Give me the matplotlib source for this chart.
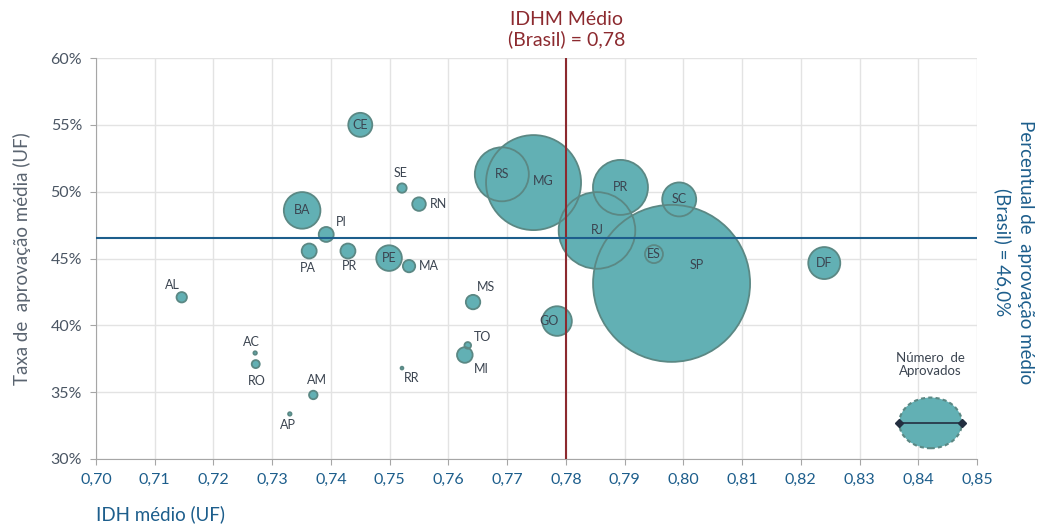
import numpy as np
import matplotlib
matplotlib.use("Agg")
import matplotlib.pyplot as plt
from matplotlib.patches import Ellipse

plt.rcParams['font.family'] = ['Lato', 'DejaVu Sans']

# data
ufs = ['CE', 'SE', 'RN', 'BA', 'PI', 'PA', 'PR', 'PE', 'MA', 'AL', 'MS', 'TO', 'MI',
       'AC', 'RO', 'AM', 'AP', 'RR', 'GO', 'RS', 'MG', 'PR', 'SC', 'RJ', 'ES', 'SP', 'DF']
idh = [0.7450, 0.7521, 0.7550, 0.7351, 0.7392, 0.7363, 0.7429, 0.7499, 0.7533, 0.7146,
       0.7642, 0.7633, 0.7628, 0.7271, 0.7272, 0.7370, 0.7330, 0.7521, 0.7785, 0.7691,
       0.7745, 0.7893, 0.7993, 0.7853, 0.7950, 0.7980, 0.8240]
taxa = [55.0, 50.27, 49.07, 48.6, 46.8, 45.56, 45.56, 45.03, 44.43, 42.1,
        41.74, 38.5, 37.78, 37.93, 37.1, 34.79, 33.37, 36.8, 40.32, 51.3,
        50.68, 50.32, 49.42, 47.1, 45.33, 43.14, 44.66]
aprovados = [1440, 220, 460, 3350, 560, 560, 560, 1640, 380, 270,
             520, 110, 610, 30, 160, 180, 30, 20, 2190, 7290,
             22560, 7560, 2890, 14670, 810, 61620, 2560]

idh_brasil = 0.78
taxa_brasil = 46.5

x_ticks = np.arange(0.70, 0.851, 0.01)
y_ticks = np.arange(30, 61, 5)

# label offsets in points (missing = centred inside the bubble)
offsets = {
    1: (-1, 11), 2: (8, 0, 'left'), 4: (11, 9), 5: (-1, -12), 6: (1, -11),
    8: (7, 0, 'left'), 9: (-7, 9), 10: (9, 11), 11: (11, 6), 12: (12, -10),
    13: (-3, 8), 14: (1, -12), 15: (3, 11), 16: (-1, -8), 17: (7, -7),
    18: (-6, 0), 20: (7, 1), 25: (18, 13),
}

fill = '#62b0b4'
edge = '#5b8884'
blue = '#1d5e8c'
red = '#8c2a2f'
grey_txt = '#4a5563'

fig = plt.figure(figsize=(10.41, 5.26), dpi=100)
ax = fig.add_axes([0.0922, 0.1274, 0.8463, 0.7623])

r_px = np.sqrt(np.array(aprovados) / 10.0)
sizes = (2 * r_px * 0.72) ** 2
# fills first, then all outlines on top so overlapping edges stay visible
ax.scatter(idh, taxa, s=sizes, c=fill, edgecolors='none', zorder=3)
ax.scatter(idh, taxa, s=sizes, facecolors='none', edgecolors=edge, linewidths=1.3, zorder=3.5)

for i, (lab, x, y) in enumerate(zip(ufs, idh, taxa)):
    off = offsets.get(i, (0, 0))
    ha = off[2] if len(off) > 2 else 'center'
    ax.annotate(lab, (x, y), xytext=(off[0], off[1]), textcoords='offset points',
                ha=ha, va='center', fontsize=9, color='#3b4450', zorder=5)

ax.axvline(idh_brasil, color=red, lw=1.5, zorder=4)
ax.axhline(taxa_brasil, color=blue, lw=1.5, zorder=4)

# legend bubble
ax.add_patch(Ellipse((0.8421, 32.7), 62.7 / 5873.3, 50.7 / 13.37, facecolor=fill,
                     edgecolor=edge, lw=1.5, ls=(0, (2, 1.5)), zorder=3))
ax.plot([0.8367, 0.8474], [32.7, 32.7], color='#232f40', lw=1.2, marker='D',
        markersize=4.5, zorder=4)
ax.text(0.8421, 36.1, 'Número  de\nAprovados', ha='center', va='bottom', fontsize=9.5,
        color='#3b4450', linespacing=1.1)

ax.set_xlim(0.70, 0.85)
ax.set_ylim(30, 60)
ax.set_xticks(x_ticks)
ax.set_xticklabels([f'{v:.2f}'.replace('.', ',') for v in x_ticks], color=blue, fontsize=11.5)
ax.set_yticks(y_ticks)
ax.set_yticklabels([f'{v}%' for v in y_ticks], color=grey_txt, fontsize=11.5)
ax.grid(True, color='#e3e3e3', lw=1.0, zorder=0)
ax.set_axisbelow(True)
for s in ['top', 'right']:
    ax.spines[s].set_visible(False)
for s in ['left', 'bottom']:
    ax.spines[s].set_color('#a6a6a6')
ax.tick_params(axis='both', length=4, color='#a6a6a6', pad=6)

ax.set_ylabel('Taxa de  aprovação média (UF)', fontsize=13.5, color='#5a6470', labelpad=14)
fig.text(0.092, 0.022, 'IDH médio (UF)', fontsize=13.5, color=blue, ha='left', va='center')
fig.text(567 / 1041, 1 - 30 / 526, 'IDHM Médio\n(Brasil) = 0,78', fontsize=14, color=red,
         ha='center', va='center', linespacing=1.15)
fig.text(1014 / 1041, 1 - 252 / 526, 'Percentual de  aprovação médio\n(Brasil) = 46,0%',
         fontsize=13.5, color=blue, ha='center', va='center', rotation=-90,
         linespacing=1.3)

fig.savefig('out.png', dpi=100)
